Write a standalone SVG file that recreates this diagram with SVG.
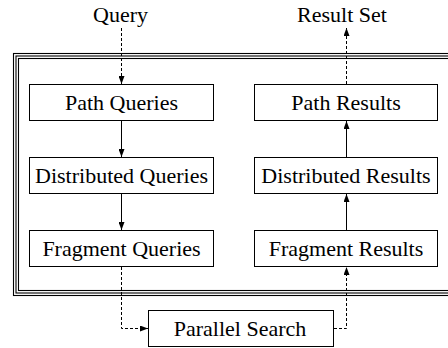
<svg xmlns="http://www.w3.org/2000/svg" width="448" height="348" viewBox="0 0 448 348">
  <defs>
    <marker id="arrow" viewBox="0 0 8 6" refX="8" refY="3" markerWidth="8" markerHeight="6" markerUnits="userSpaceOnUse" orient="auto">
      <path d="M0,0 L8,3 L0,6 Z" fill="#000"/>
    </marker>
    <style>
      .box { fill: #fff; stroke: #000; stroke-width: 1; }
      .frame { fill: none; stroke: #000; stroke-width: 1.1; }
      .label { font-family: "Times New Roman", "Liberation Serif", Tinos, serif; font-size: 22px; fill: #000; text-anchor: middle; }
      .solid { fill: none; stroke: #000; stroke-width: 1; marker-end: url(#arrow); }
      .dashed { fill: none; stroke: #000; stroke-width: 1; stroke-dasharray: 3,2; marker-end: url(#arrow); }
    </style>
  </defs>
  <rect width="448" height="348" fill="#fff"/>

  <!-- triple-line enclosure -->
  <g id="enclosure">
    <rect class="frame" x="13.5" y="53.5" width="460" height="242"/>
    <rect class="frame" x="16" y="56" width="460" height="237"/>
    <rect class="frame" x="18.5" y="58.5" width="460" height="232"/>
  </g>

  <!-- outside labels -->
  <g id="query">
    <text class="label" x="120.5" y="22">Query</text>
  </g>
  <g id="result-set">
    <text class="label" x="342" y="22">Result Set</text>
  </g>

  <!-- query side -->
  <g id="path-queries">
    <rect class="box" x="29.5" y="84.5" width="184" height="36"/>
    <text class="label" x="121.5" y="110">Path Queries</text>
  </g>
  <g id="distributed-queries">
    <rect class="box" x="29.5" y="157.5" width="184" height="36"/>
    <text class="label" x="121.5" y="183">Distributed Queries</text>
  </g>
  <g id="fragment-queries">
    <rect class="box" x="29.5" y="230.5" width="184" height="36"/>
    <text class="label" x="121.5" y="256">Fragment Queries</text>
  </g>

  <!-- result side -->
  <g id="path-results">
    <rect class="box" x="254.5" y="84.5" width="183" height="36"/>
    <text class="label" x="346" y="110">Path Results</text>
  </g>
  <g id="distributed-results">
    <rect class="box" x="254.5" y="157.5" width="183" height="36"/>
    <text class="label" x="346" y="183">Distributed Results</text>
  </g>
  <g id="fragment-results">
    <rect class="box" x="254.5" y="230.5" width="183" height="36"/>
    <text class="label" x="346" y="256">Fragment Results</text>
  </g>

  <!-- search stage -->
  <g id="parallel-search">
    <rect class="box" x="148.5" y="310.5" width="185" height="36"/>
    <text class="label" x="240" y="336">Parallel Search</text>
  </g>

  <!-- connectors -->
  <g id="connectors">
    <path class="dashed" d="M121.5,28 L121.5,84"/>
    <path class="solid" d="M121.5,121 L121.5,157"/>
    <path class="solid" d="M121.5,194 L121.5,230"/>
    <path class="dashed" d="M121.5,267 L121.5,328.5 L148,328.5"/>
    <path class="dashed" d="M334,328.5 L346.5,328.5 L346.5,267"/>
    <path class="solid" d="M346.5,230 L346.5,194"/>
    <path class="solid" d="M346.5,157 L346.5,121"/>
    <path class="dashed" d="M346.5,84 L346.5,28"/>
  </g>
</svg>
